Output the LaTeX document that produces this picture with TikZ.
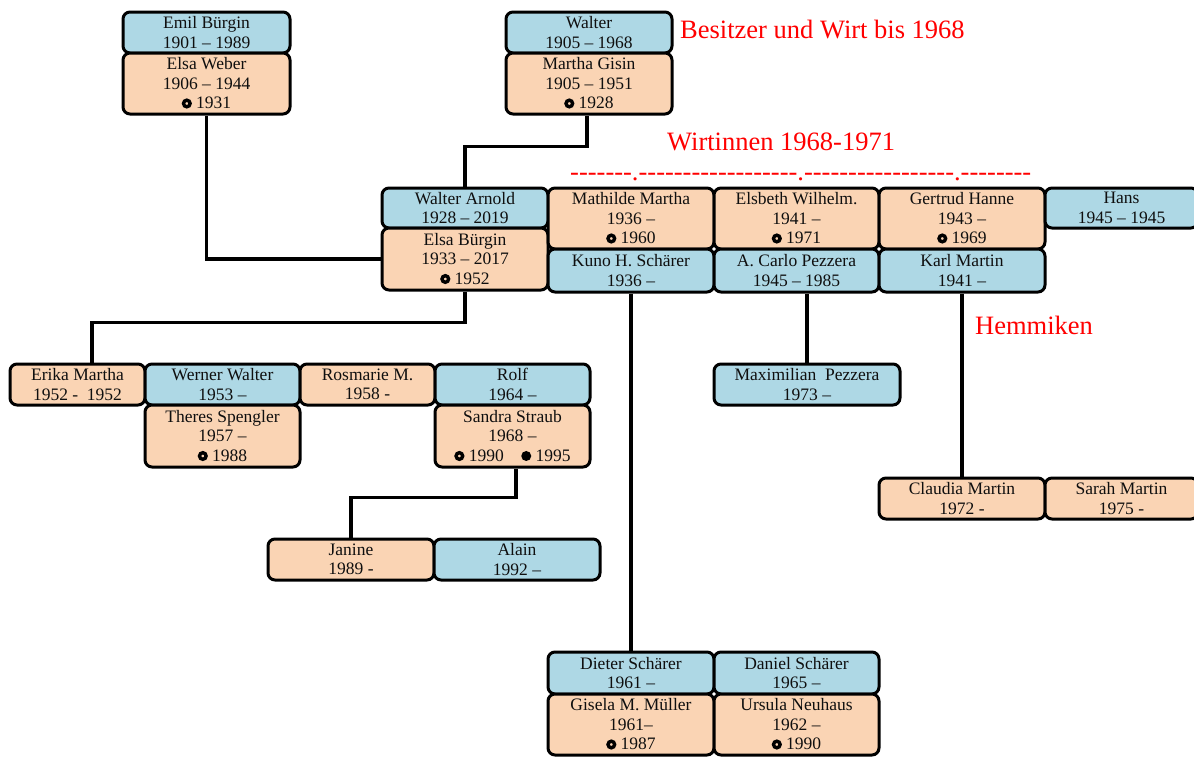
\documentclass[tikz,border=0pt]{standalone}
\usepackage{fontspec}
\setmainfont{Liberation Serif}
\usetikzlibrary{calc,backgrounds}
\definecolor{bbl}{RGB}{174,216,229}
\definecolor{bor}{RGB}{250,212,180}
\definecolor{tx}{RGB}{15,15,15}
\newcommand{\wring}{\tikz[baseline=-5.5pt]\draw[line width=3.4pt,black] (0,0) circle (3.3pt);}
\newcommand{\fring}{\tikz[baseline=-5.5pt]\fill[black] (0,0) circle (5pt);}
\newcommand{\dsh}{-\kern0pt}
\newcommand{\dshs}[1]{\foreach \k in {1,...,#1}{\dsh}}
\tikzset{
  pbox/.style={draw=black, line width=3pt, rounded corners=7pt, align=center, inner sep=0pt, text=tx, font=\fontsize{17.5}{19.5}\selectfont},
  bl/.style={pbox, fill=bbl},
  orr/.style={pbox, fill=bor},
  conn/.style={line width=3.5pt, black},
  lbl/.style={text=red, font=\fontsize{26.5}{30}\selectfont, inner sep=0pt}
}
\begin{document}
\begin{tikzpicture}[x=1pt,y=-1pt]
\useasboundingbox (0,0) rectangle (1194,756);
% generation 1
\node[bl, minimum width=167pt, minimum height=41pt] (eb) at (206.5,32.5) {Emil Bürgin\\1901 – 1989};
\node[orr, minimum width=167pt, minimum height=61pt] (ew) at (206.5,83.5) {Elsa Weber\\1906 – 1944\\\wring\ 1931};
\node[bl, minimum width=166pt, minimum height=41pt] (wa) at (589,32.5) {Walter\\1905 – 1968};
\node[orr, minimum width=166pt, minimum height=61pt] (mg) at (589,83.5) {Martha Gisin\\1905 – 1951\\\wring\ 1928};
% generation 2
\node[bl, minimum width=166pt, minimum height=40pt] (war) at (465,208) {Walter Arnold\\1928 – 2019};
\node[orr, minimum width=166pt, minimum height=62pt] (ebu) at (465,259) {Elsa Bürgin\\1933 – 2017\\\wring\ 1952};
\node[orr, minimum width=166pt, minimum height=61pt] (mm) at (631,218.5) {Mathilde Martha\\1936 –\\\wring\ 1960};
\node[bl, minimum width=166pt, minimum height=43pt] (ks) at (631,270.5) {Kuno H. Schärer\\1936 –};
\node[orr, minimum width=165pt, minimum height=61pt] (ewi) at (796.5,218.5) {Elsbeth Wilhelm.\\1941 –\\\wring\ 1971};
\node[bl, minimum width=165pt, minimum height=43pt] (cp) at (796.5,270.5) {A. Carlo Pezzera\\1945 – 1985};
\node[orr, minimum width=166pt, minimum height=61pt] (gh) at (962,218.5) {Gertrud Hanne\\1943 –\\\wring\ 1969};
\node[bl, minimum width=166pt, minimum height=43pt] (km) at (962,270.5) {Karl Martin\\1941 –};
\node[bl, minimum width=153pt, minimum height=40pt] (ha) at (1121.5,208) {Hans\\1945 – 1945};
% generation 3
\node[orr, minimum width=135pt, minimum height=41pt] (em) at (77.5,384.5) {Erika Martha\\1952 -\ \ 1952};
\node[bl, minimum width=155pt, minimum height=41pt] (ww) at (222.5,384.5) {Werner Walter\\1953 –};
\node[orr, minimum width=155pt, minimum height=62pt] (ts) at (222.5,436) {Theres Spengler\\1957 –\\\wring\ 1988};
\node[orr, minimum width=135pt, minimum height=41pt] (rm) at (367.5,384.5) {Rosmarie M.\\1958 -};
\node[bl, minimum width=155pt, minimum height=41pt] (ro) at (512.5,384.5) {Rolf\\1964 –};
\node[orr, minimum width=155pt, minimum height=62pt] (ss) at (512.5,436) {Sandra Straub\\1968 –\\\wring\ 1990\quad\fring\ 1995};
\node[bl, minimum width=186pt, minimum height=41pt] (mp) at (807,384.5) {Maximilian\ \ Pezzera\\1973 –};
\node[orr, minimum width=166pt, minimum height=41pt] (cm) at (962,498.5) {Claudia Martin\\1972 -};
\node[orr, minimum width=153pt, minimum height=41pt] (sm) at (1121.5,498.5) {Sarah Martin\\1975 -};
\node[bl, minimum width=166pt, minimum height=42pt] (ds) at (631,673) {Dieter Schärer\\1961 –};
\node[orr, minimum width=166pt, minimum height=61pt] (gm) at (631,724.5) {Gisela M. Müller\\1961–\\\wring\ 1987};
\node[bl, minimum width=165pt, minimum height=42pt] (das) at (796.5,673) {Daniel Schärer\\1965 –};
\node[orr, minimum width=165pt, minimum height=61pt] (un) at (796.5,724.5) {Ursula Neuhaus\\1962 –\\\wring\ 1990};
% generation 4
\node[orr, minimum width=166pt, minimum height=41pt] (ja) at (351,559.5) {Janine\\1989 -};
\node[bl, minimum width=166pt, minimum height=41pt] (al) at (517,559.5) {Alain\\1992 –};
% labels
\node[lbl, anchor=base west] (t1) at (680,38.5) {Besitzer und Wirt bis 1968};
\node[lbl, anchor=base west] (t2) at (667,150) {Wirtinnen 1968-1971};
\node[lbl, anchor=base west] (t3) at (570,180) {\dshs{7}.\dshs{18}.\dshs{17}.\dshs{8}};
\node[lbl, anchor=base west] (t4) at (975,334) {Hemmiken};
% connectors
\begin{scope}[on background layer]
\fill[white] (0,0) rectangle (1194,756);
\draw[conn] (ew.south) |- (ebu.west);
\draw[conn] ([xshift=-2pt]mg.south) -- ++(0,31) -| (war.north);
\draw[conn] (ebu.south) -- ++(0,31) -| ([xshift=14.5pt]em.north);
\draw[conn] ([xshift=3.5pt]ss.south) -- ++(0,29) -| (ja.north);
\draw[conn] (ks.south) -- (ds.north);
\draw[conn] (mp.north) -- (mp.north |- cp.south);
\draw[conn] (km.south) -- (cm.north);
\end{scope}
\end{tikzpicture}
\end{document}
